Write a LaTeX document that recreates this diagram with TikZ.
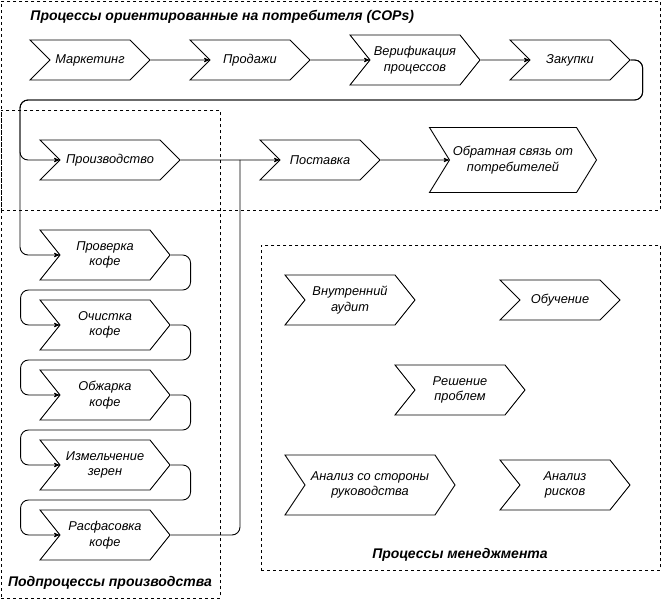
\documentclass[tikz,border=0pt]{standalone}
\usepackage{fontspec}
\setmainfont{Liberation Sans}
\usetikzlibrary{arrows}
\usetikzlibrary{shapes.symbols}
\tikzstyle{chev} = [draw,signal,signal from=west,signal to=east,signal pointer angle=90,minimum height=40,inner sep=1pt,align=center,font=\itshape\fontsize{12.8}{15.5}\selectfont]
\tikzstyle{chevb} = [chev,minimum height=50,signal pointer angle=102.68]
\tikzstyle{frame} = [draw,dash pattern=on 3pt off 3pt,line width=0.7pt,inner sep=0pt]
\tikzstyle{ttl} = [inner sep=0pt,font=\bfseries\itshape\fontsize{14}{17}\selectfont]

\begin{document}
\begin{tikzpicture}[>=stealth',x=1pt,y=-1pt,line width=0.9pt]
\useasboundingbox (0,0) rectangle (661,601);

% Draw containers and their titles

    \node[frame,anchor=north west,minimum width=659,minimum height=209] at (1,1) (cops) {};
    \node[frame,anchor=north west,minimum width=219,minimum height=488] at (1,110) (sub) {};
    \node[frame,anchor=north west,minimum width=399,minimum height=325] at (261,245) (mgmt) {};
    \node[ttl,anchor=west] at (30,17) (copstitle) {Процессы ориентированные на потребителя (COPs)};
    \node[ttl] at (110,583) (subtitle) {Подпроцессы производства};
    \node[ttl] at (460,555) (mgmttitle) {Процессы менеджмента};

% Draw blocks

    \node[chev,minimum width=120] at (90,60) (mark) {Маркетинг};
    \node[chev,minimum width=120] at (250,60) (sale) {Продажи};
    \node[chevb,minimum width=130] at (415,60) (verif) {Верификация\\процессов};
    \node[chev,minimum width=120] at (570,60) (purch) {Закупки};
    \node[chev,minimum width=140] at (110,160) (prod) {Производство};
    \node[chev,minimum width=120] at (320,160) (deliv) {Поставка};
    \node[chev,minimum width=167,minimum height=65,signal pointer angle=116.8] at (513,160) (feedb) {Обратная связь от\\потребителей};

    \node[chevb,minimum width=130] at (105,255) (check) {Проверка\\кофе};
    \node[chevb,minimum width=130] at (105,325) (clean) {Очистка\\кофе};
    \node[chevb,minimum width=130] at (105,395) (roast) {Обжарка\\кофе};
    \node[chevb,minimum width=130] at (105,465) (grind) {Измельчение\\зерен};
    \node[chevb,minimum width=130] at (105,535) (pack) {Расфасовка\\кофе};

    \node[chevb,minimum width=130] at (350,300) (audit) {Внутренний\\аудит};
    \node[chev,minimum width=120] at (560,300) (train) {Обучение};
    \node[chevb,minimum width=130] at (460,390) (solve) {Решение\\проблем};
    \node[chev,minimum width=170,minimum height=60,signal pointer angle=112.6] at (370,485) (review) {Анализ со стороны\\руководства};
    \node[chevb,minimum width=130] at (565,485) (risk) {Анализ\\рисков};

    \coordinate (rail) at (20,100);
    \coordinate (jn) at (240,160);

% Draw connectors

    \draw[->] (mark) -- (sale);
    \draw[->] (sale) -- (verif);
    \draw[->] (verif) -- (purch);
    \draw[->,rounded corners=8] (purch.east) -- ++(12,0) |- (rail) |- (prod);
    \draw[->,rounded corners=8] (purch.east) -- ++(12,0) |- (rail) |- (check);
    \draw[->] (prod) -- (deliv);
    \draw[->] (deliv) -- (feedb);

    \draw[->,rounded corners=8] (check.east) -- ++(20,0) |- ++(-170,35) |- (clean);
    \draw[->,rounded corners=8] (clean.east) -- ++(20,0) |- ++(-170,35) |- (roast);
    \draw[->,rounded corners=8] (roast.east) -- ++(20,0) |- ++(-170,35) |- (grind);
    \draw[->,rounded corners=8] (grind.east) -- ++(20,0) |- ++(-170,35) |- (pack);
    \draw[rounded corners=8] (pack.east) -| (jn);

\end{tikzpicture}
\end{document}
